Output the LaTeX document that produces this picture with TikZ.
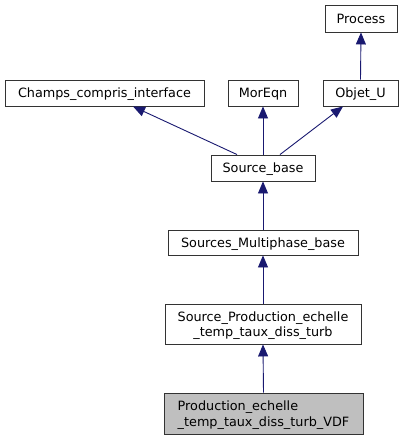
\documentclass[tikz,border=0pt]{standalone}
\usepackage{fontspec}
\setmainfont{DejaVu Sans}
\usetikzlibrary{arrows.meta}
\definecolor{edgecol}{HTML}{191970}
\tikzset{
  cls/.style={draw=black!80, line width=0.9pt, fill=white, inner sep=0pt, font=\fontsize{12.8}{15.5}\selectfont, text depth=0pt},
  cur/.style={cls, fill=black!25},
  arr/.style={draw=edgecol, line width=0.9pt, -{Triangle[width=10pt,length=12pt]}, edgecol}
}
\begin{document}
\begin{tikzpicture}[x=1pt,y=-1pt]
\useasboundingbox (0,0) rectangle (403,440);
\node[cls, minimum width=72pt, minimum height=27pt] (proc) at (361,18.5) {Process};
\node[cls, minimum width=199pt, minimum height=26pt] (cci) at (104.5,93) {Champs\_compris\_interface};
\node[cls, minimum width=70pt, minimum height=26pt] (mor) at (263,93) {MorEqn};
\node[cls, minimum width=75pt, minimum height=26pt] (obj) at (360.5,93) {Objet\_U};
\node[cls, minimum width=104pt, minimum height=26pt] (sb) at (263,168) {Source\_base};
\node[cls, minimum width=190pt, minimum height=25pt] (smb) at (263,242.5) {Sources\_Multiphase\_base};
\node[cls, minimum width=196pt, minimum height=40pt, align=center] (spe) at (263,324) {Source\_Production\_echelle\\\_temp\_taux\_diss\_turb};
\node[cur, minimum width=199pt, minimum height=41pt, align=left] (vdf) at (263.5,413.5) {Production\_echelle\\\_temp\_taux\_diss\_turb\_VDF};
\draw[arr] (obj.north) -- (proc.south);
\draw[arr] ([xshift=-26pt]sb.north) -- ([xshift=28.5pt]cci.south);
\draw[arr] (sb.north) -- (mor.south);
\draw[arr] ([xshift=17pt]sb.north) -- ([xshift=-17.5pt]obj.south);
\draw[arr] (smb.north) -- (sb.south);
\draw[arr] (spe.north) -- (smb.south);
\draw[arr] (vdf.north) -- (spe.south);
\end{tikzpicture}
\end{document}
